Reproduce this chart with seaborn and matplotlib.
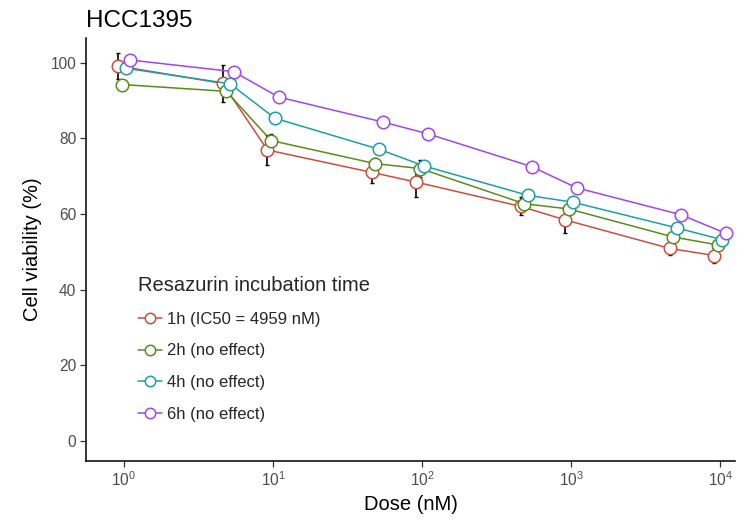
import numpy as np
import pandas as pd
import matplotlib
matplotlib.use("Agg")
import matplotlib.pyplot as plt
import seaborn as sns

# ---- data ----
doses = [1, 5, 10, 50, 100, 500, 1000, 5000, 10000]
series_labels = ["1h (IC50 = 4959 nM)", "2h (no effect)", "4h (no effect)", "6h (no effect)"]
v1h = [99.1, 94.5, 76.9, 71.0, 68.4, 62.0, 58.4, 50.9, 49.0]
v2h = [94.2, 92.4, 79.4, 73.3, 72.0, 62.7, 61.3, 53.9, 51.8]
v4h = [98.5, 94.4, 85.3, 77.1, 72.7, 64.9, 63.1, 56.3, 53.2]
v6h = [100.7, 97.6, 90.9, 84.3, 81.2, 72.5, 66.9, 59.8, 54.9]
sd1h = [3.5, 4.9, 4.0, 2.8, 3.8, 2.4, 3.5, 1.8, 2.0]
sd2h = [1.0, 1.2, 1.8, 1.5, 2.2, 1.2, 1.0, 0.8, 0.8]
sd4h = [0.8, 1.0, 1.0, 0.8, 0.8, 1.0, 0.8, 0.8, 0.8]
sd6h = [0.6, 0.6, 0.6, 0.6, 0.6, 0.6, 0.6, 0.6, 0.6]
yticks = [0, 20, 40, 60, 80, 100]

colors = ["#C8503F", "#5A8C1C", "#1C9FA6", "#A346E3"]
dodge_width = 0.1  # in decades

values = [v1h, v2h, v4h, v6h]
sds = [sd1h, sd2h, sd4h, sd6h]
n = len(series_labels)
rows = []
for i, (lab, vals, sd) in enumerate(zip(series_labels, values, sds)):
    off = (i - (n - 1) / 2) * dodge_width / n
    for d, v, s in zip(doses, vals, sd):
        rows.append({"Dose": d * 10 ** off, "Viability": v, "SD": s, "Series": lab})
df = pd.DataFrame(rows)

sns.set_theme(style="ticks")
plt.rcParams["font.family"] = ["Liberation Sans", "DejaVu Sans"]

fig = plt.figure(figsize=(7.38, 5.26), dpi=100)
ax = fig.add_axes([86 / 738, 1 - 461 / 526, (735 - 86) / 738, (461 - 38) / 526])

# error bars (black, behind)
for lab in series_labels:
    sub = df[df["Series"] == lab]
    ax.errorbar(sub["Dose"], sub["Viability"], yerr=sub["SD"], fmt="none",
                ecolor="black", elinewidth=1.2, capsize=1.6, capthick=1.0, zorder=1.5)

n_before = len(ax.lines)
sns.lineplot(data=df, x="Dose", y="Viability", hue="Series", hue_order=series_labels,
             palette=colors, marker="o", markersize=9, markerfacecolor="white",
             linewidth=1.1, legend=False, ax=ax, zorder=2, errorbar=None)
series_lines = ax.lines[n_before:]
for ln in series_lines:
    ln.set_markeredgecolor(ln.get_color())
    ln.set_markeredgewidth(1.1)
    ln.set_markerfacecolor("white")

ax.set_xscale("log")
ax.set_xlim(0.556, 12600)
ax.set_ylim(-5.3, 106.5)
ax.set_yticks(yticks)
ax.xaxis.set_minor_locator(matplotlib.ticker.NullLocator())
ax.set_xticks([1, 10, 100, 1000, 10000])

for s in ["top", "right"]:
    ax.spines[s].set_visible(False)
for s in ["left", "bottom"]:
    ax.spines[s].set_color("black")
    ax.spines[s].set_linewidth(1.1)
ax.tick_params(axis="both", which="major", length=4, width=0.9, color="#333333",
               labelsize=11.2, labelcolor="#4D4D4D", pad=3)

ax.set_xlabel("Dose (nM)", fontsize=14.5, color="black", labelpad=4)
ax.set_ylabel("Cell viability (%)", fontsize=14.5, color="black", labelpad=6)
ax.set_title("HCC1395", fontsize=17.5, loc="left", color="black", pad=8)

leg = ax.legend(handles=series_lines, labels=series_labels, title="Resazurin incubation time",
                loc="upper left", bbox_to_anchor=(138 / 738, 1 - 276 / 526),
                bbox_transform=fig.transFigure, frameon=False, fontsize=12,
                title_fontsize=14.5, handlelength=1.45, handletextpad=0.3,
                labelspacing=1.0, borderpad=0, borderaxespad=0)
leg._legend_box.align = "left"
for h in leg.legend_handles:
    h.set_markersize(7.5)

fig.savefig("out.png", dpi=100)
